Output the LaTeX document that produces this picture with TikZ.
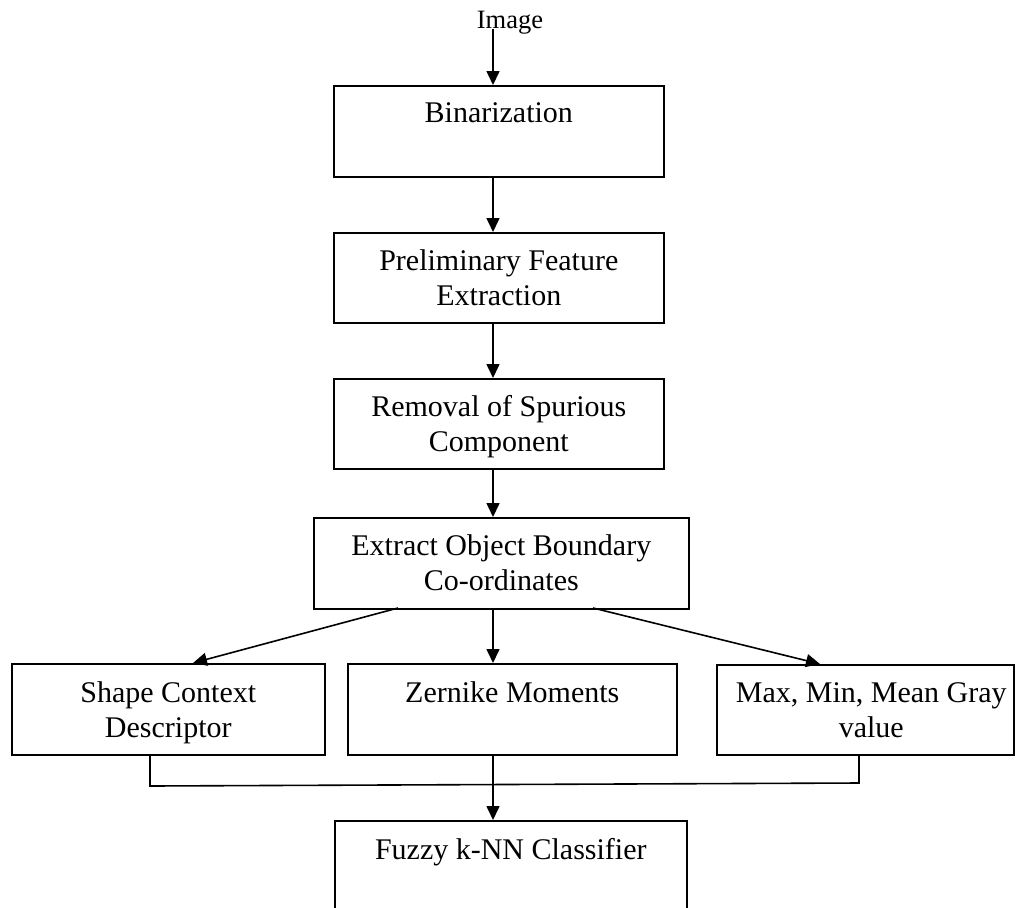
\documentclass[tikz,border=0pt]{standalone}
\usepackage{fontspec}
\setmainfont{Liberation Serif}
\usetikzlibrary{arrows.meta}
\begin{document}
\begin{tikzpicture}[x=1pt,y=-1pt,
  box/.style={draw, line width=1.6pt, inner sep=0pt, anchor=north west},
  txt/.style={font=\fontsize{30}{35}\selectfont, align=center, inner sep=0pt, anchor=north},
  arr/.style={line width=1.6pt, -{Triangle[length=14pt,width=13pt]}},
  ln/.style={line width=1.6pt}]
\useasboundingbox (0,0) rectangle (1016,907);
\clip (0,0) rectangle (1016,907);

% boxes
\node[box, minimum width=330pt, minimum height=91pt] (bin) at (333,85) {};
\node[box, minimum width=330pt, minimum height=90pt] (pre) at (333,232) {};
\node[box, minimum width=330pt, minimum height=90pt] (rem) at (333,378) {};
\node[box, minimum width=375pt, minimum height=91pt] (ext) at (313,517) {};
\node[box, minimum width=313pt, minimum height=91pt] (shp) at (11,663) {};
\node[box, minimum width=329pt, minimum height=91pt] (zer) at (347,663) {};
\node[box, minimum width=297pt, minimum height=90pt] (max) at (716,664) {};
\node[box, minimum width=352pt, minimum height=120pt] (fuz) at (334,820) {};

% texts
\node[font=\fontsize{26.5}{30}\selectfont, inner sep=0pt, anchor=base] (img) at (510,29) {Image};
\node[txt] (binT) at ([yshift=-17pt]bin.north) {Binarization};
\node[txt] (preT) at ([yshift=-17pt]pre.north) {Preliminary Feature\\Extraction};
\node[txt] (remT) at ([yshift=-17pt]rem.north) {Removal of Spurious\\Component};
\node[txt] (extT) at ([yshift=-17pt]ext.north) {Extract Object Boundary\\Co-ordinates};
\node[txt] (shpT) at ([yshift=-18pt]shp.north) {Shape Context\\Descriptor};
\node[txt] (zerT) at ([yshift=-18pt]zer.north) {Zernike Moments};
\node[txt] (maxT) at ([xshift=6pt,yshift=-18pt]max.north) {Max, Min, Mean Gray\\value};
\node[txt] (fuzT) at ([yshift=-18pt]fuz.north) {Fuzzy k-NN Classifier};

% connectors
\coordinate (imgs) at (493,29);
\draw[arr] (imgs) -- (imgs |- bin.north);
\draw[arr] (bin.south -| imgs) -- (imgs |- pre.north);
\draw[arr] (pre.south -| imgs) -- (imgs |- rem.north);
\draw[arr] (rem.south -| imgs) -- (imgs |- ext.north);
\coordinate (el) at (398,608);
\coordinate (er) at (593,608);
\coordinate (st) at (193,663);
\coordinate (mt) at (820,664);
\draw[arr] (el) -- (st);
\draw[arr] (ext.south -| imgs) -- (imgs |- zer.north);
\draw[arr] (er) -- (mt);
\coordinate (jl) at (150,786);
\coordinate (jr) at (859,783);
\draw[ln] (shp.south -| jl) -- (jl) -- (jr) -- (max.south -| jr);
\draw[arr] (zer.south -| imgs) -- (imgs |- fuz.north);
\end{tikzpicture}
\end{document}
